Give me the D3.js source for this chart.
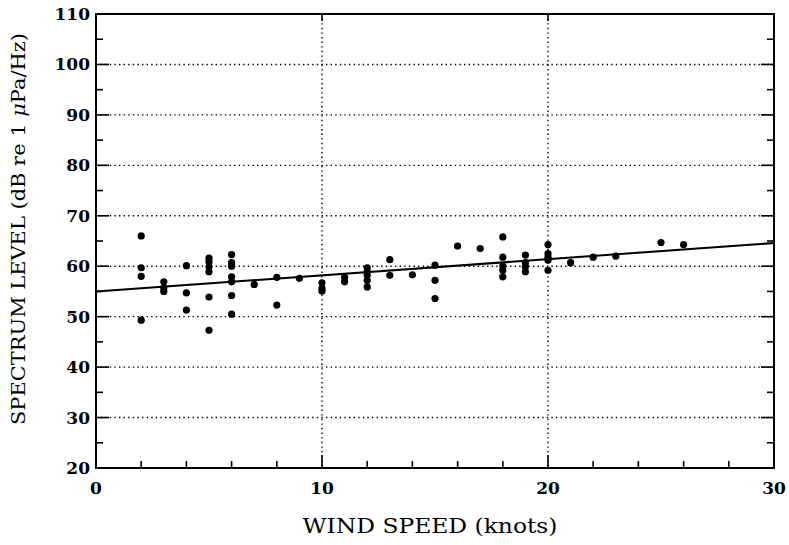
<!DOCTYPE html>
<html lang="en">
<head>
    <meta charset="UTF-8">
    <script src="https://cdn.jsdelivr.net/npm/d3@7"></script>
    <title>Spectrum level vs wind speed</title>
    <style>
        body { margin: 0; background: #fff; }
        text { font-family: "DejaVu Serif", "Liberation Serif", serif; fill: #000; }
    </style>
</head>
<body>
    <script>
        // data
        const windSpeed = [2, 2, 2, 2, 3, 3, 3, 4, 4, 4, 5, 5, 5, 5, 5, 5,
                           6, 6, 6, 6, 6, 6, 6, 7, 8, 8, 9, 10, 10, 10, 11, 11,
                           12, 12, 12, 12, 12, 13, 13, 14, 15, 15, 15, 16, 17,
                           18, 18, 18, 18, 18, 19, 19, 19, 19, 20, 20, 20, 20, 20,
                           21, 22, 23, 25, 26];
        const level = [66.0, 59.7, 58.0, 49.3, 56.9, 55.7, 55.0, 60.1, 54.7, 51.3,
                       61.6, 60.9, 59.9, 58.9, 53.9, 47.3,
                       62.3, 60.7, 60.0, 57.9, 56.9, 54.2, 50.5, 56.4, 57.8, 52.3, 57.6,
                       56.7, 55.6, 55.1, 57.8, 56.9,
                       59.7, 58.9, 58.2, 57.2, 55.9, 61.3, 58.2, 58.3, 60.2, 57.2, 53.6,
                       64.0, 63.5,
                       65.8, 61.8, 60.0, 59.2, 57.9, 62.2, 60.7, 59.9, 58.9,
                       64.3, 62.5, 61.8, 61.2, 59.2,
                       60.7, 61.8, 62.0, 64.7, 64.3];
        // fitted line end points
        const fitX = [0, 30];
        const fitY = [55.0, 64.6];

        const xTicks = [0, 10, 20, 30];
        const yTicks = [20, 30, 40, 50, 60, 70, 80, 90, 100, 110];
        const xGrid = [10, 20];
        const yGrid = [30, 40, 50, 60, 70, 80, 90, 100];

        const w = 789, h = 545;
        const m = {left: 96, top: 14, right: 15, bottom: 77};
        const pw = w - m.left - m.right;
        const ph = h - m.top - m.bottom;

        const svg = d3.select("body").append("svg")
            .attr("width", w)
            .attr("height", h);

        const x = d3.scaleLinear().domain([0, 30]).range([0, pw]);
        const y = d3.scaleLinear().domain([20, 110]).range([ph, 0]);

        const g = svg.append("g").attr("transform", `translate(${m.left},${m.top})`);

        // dotted grid
        g.selectAll(".hgrid").data(yGrid).enter().append("line")
            .attr("x1", 0).attr("x2", pw)
            .attr("y1", d => y(d)).attr("y2", d => y(d))
            .attr("stroke", "#000").attr("stroke-width", 1.4)
            .attr("stroke-dasharray", "1.4,3.2");
        g.selectAll(".vgrid").data(xGrid).enter().append("line")
            .attr("y1", 0).attr("y2", ph)
            .attr("x1", d => x(d)).attr("x2", d => x(d))
            .attr("stroke", "#000").attr("stroke-width", 1.4)
            .attr("stroke-dasharray", "1.4,3.2");

        // inward ticks on all four sides
        const xMinor = d3.range(2, 30, 2);
        const yMinor = d3.range(25, 110, 5);
        const tickLen = v => (v % 10 === 0 ? 13 : 7);
        [0, ph].forEach((yy, i) => {
            g.selectAll(".xt" + i).data(xMinor).enter().append("line")
                .attr("x1", d => x(d)).attr("x2", d => x(d))
                .attr("y1", yy).attr("y2", d => i ? yy - tickLen(d) : yy + tickLen(d) - 6)
                .attr("stroke", "#000").attr("stroke-width", 1.6);
        });
        [0, pw].forEach((xx, i) => {
            g.selectAll(".yt" + i).data(yMinor).enter().append("line")
                .attr("y1", d => y(d)).attr("y2", d => y(d))
                .attr("x1", xx).attr("x2", d => i ? xx - tickLen(d) : xx + tickLen(d))
                .attr("stroke", "#000").attr("stroke-width", 1.6);
        });

        // frame
        g.append("rect")
            .attr("width", pw).attr("height", ph)
            .attr("fill", "none").attr("stroke", "#000").attr("stroke-width", 2);

        // tick labels
        g.selectAll(".xl").data(xTicks).enter().append("text")
            .attr("x", d => x(d)).attr("y", ph + 26)
            .attr("text-anchor", "middle")
            .style("font-size", "17px").style("font-weight", "bold")
            .text(d => d);
        g.selectAll(".yl").data(yTicks).enter().append("text")
            .attr("x", -6).attr("y", d => y(d) + 6)
            .attr("text-anchor", "end")
            .style("font-size", "17px").style("font-weight", "bold")
            .text(d => d);

        // fitted line
        const line = d3.line().x(d => x(d[0])).y(d => y(d[1]));
        g.append("path")
            .datum(d3.zip(fitX, fitY))
            .attr("d", line)
            .attr("fill", "none").attr("stroke", "#000").attr("stroke-width", 2);

        // points
        g.selectAll("circle").data(d3.zip(windSpeed, level)).enter().append("circle")
            .attr("cx", d => x(d[0])).attr("cy", d => y(d[1]))
            .attr("r", 3.6).attr("fill", "#000");

        // axis titles
        svg.append("text")
            .attr("x", m.left + pw / 2 - 5).attr("y", 533)
            .attr("text-anchor", "middle")
            .attr("textLength", 255).attr("lengthAdjust", "spacingAndGlyphs")
            .style("font-size", "20px")
            .text("WIND SPEED (knots)");

        const yt = svg.append("text")
            .attr("transform", `translate(25,${m.top + ph / 2 - 12}) rotate(-90)`)
            .attr("text-anchor", "middle")
            .attr("textLength", 392).attr("lengthAdjust", "spacingAndGlyphs")
            .style("font-size", "19px");
        yt.append("tspan").text("SPECTRUM LEVEL (dB re 1 ");
        yt.append("tspan").style("font-style", "italic").text("\u03bc");
        yt.append("tspan").text("Pa/Hz)");
    </script>
</body>
</html>
